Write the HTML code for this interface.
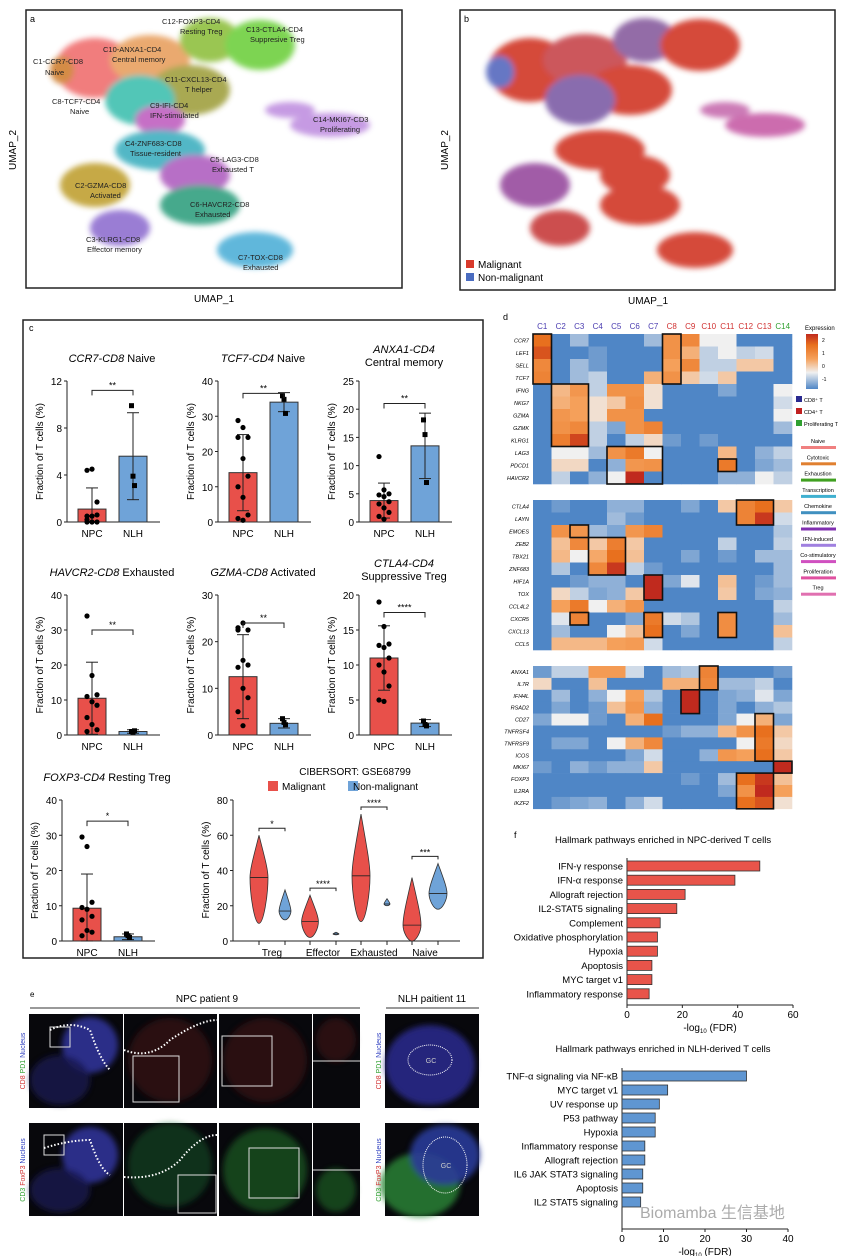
<!DOCTYPE html>
<html><head><meta charset="utf-8"><style>
body{margin:0;background:#fff;}
svg{display:block;font-family:"Liberation Sans",sans-serif;}
</style></head><body>
<svg id="fig" width="865" height="1256" viewBox="0 0 865 1256">
<defs>
<filter id="soft" x="-20%" y="-20%" width="140%" height="140%"><feGaussianBlur stdDeviation="3"/></filter>
</defs>
<rect width="865" height="1256" fill="#fff"/>
<!-- panel a -->
<g>
<rect x="26" y="10" width="376" height="278" fill="none" stroke="#222" stroke-width="1.5"/>
<text x="30" y="22" font-size="9">a</text>
<g opacity="0.9" filter="url(#soft)">
<ellipse cx="95" cy="68" rx="40" ry="30" fill="#f07070"/>
<ellipse cx="62" cy="70" rx="12" ry="14" fill="#d08030"/>
<ellipse cx="150" cy="60" rx="40" ry="25" fill="#e8a060"/>
<ellipse cx="210" cy="40" rx="30" ry="22" fill="#90c040"/>
<ellipse cx="260" cy="45" rx="35" ry="25" fill="#70d040"/>
<ellipse cx="190" cy="90" rx="40" ry="25" fill="#a0a040"/>
<ellipse cx="140" cy="100" rx="35" ry="25" fill="#40c0b0"/>
<ellipse cx="160" cy="120" rx="25" ry="15" fill="#c060c0"/>
<ellipse cx="330" cy="125" rx="40" ry="12" fill="#c090e0"/>
<ellipse cx="290" cy="110" rx="25" ry="8" fill="#c090e0"/>
<ellipse cx="160" cy="150" rx="45" ry="20" fill="#40b0c0"/>
<ellipse cx="195" cy="175" rx="35" ry="20" fill="#b060c0"/>
<ellipse cx="95" cy="185" rx="35" ry="22" fill="#c0a030"/>
<ellipse cx="200" cy="205" rx="40" ry="20" fill="#30a080"/>
<ellipse cx="120" cy="228" rx="30" ry="18" fill="#9070d0"/>
<ellipse cx="255" cy="250" rx="38" ry="18" fill="#50b0d8"/>
</g>
<g font-size="7.5" fill="#222">
<text x="33" y="64">C1-CCR7-CD8</text><text x="45" y="75">Naive</text>
<text x="52" y="104">C8-TCF7-CD4</text><text x="70" y="114">Naive</text>
<text x="103" y="52">C10-ANXA1-CD4</text><text x="112" y="62">Central memory</text>
<text x="162" y="24">C12-FOXP3-CD4</text><text x="180" y="34">Resting Treg</text>
<text x="246" y="32">C13-CTLA4-CD4</text><text x="250" y="42">Suppresive Treg</text>
<text x="165" y="82">C11-CXCL13-CD4</text><text x="185" y="92">T helper</text>
<text x="150" y="108">C9-IFI-CD4</text><text x="150" y="118">IFN-stimulated</text>
<text x="313" y="122">C14-MKI67-CD3</text><text x="320" y="132">Proliferating</text>
<text x="125" y="146">C4-ZNF683-CD8</text><text x="130" y="156">Tissue-resident</text>
<text x="210" y="162">C5-LAG3-CD8</text><text x="212" y="172">Exhausted T</text>
<text x="75" y="188">C2-GZMA-CD8</text><text x="90" y="198">Activated</text>
<text x="190" y="207">C6-HAVCR2-CD8</text><text x="195" y="217">Exhausted</text>
<text x="86" y="242">C3-KLRG1-CD8</text><text x="87" y="252">Effector memory</text>
<text x="238" y="260">C7-TOX-CD8</text><text x="243" y="270">Exhausted</text>
</g>
<text x="214" y="302" font-size="10" text-anchor="middle">UMAP_1</text>
<text x="16" y="150" font-size="10" text-anchor="middle" transform="rotate(-90 16 150)">UMAP_2</text>
</g>
<!-- panel b -->
<g>
<rect x="460" y="10" width="375" height="280" fill="none" stroke="#222" stroke-width="1.5"/>
<text x="464" y="22" font-size="9">b</text>
<g opacity="0.92" filter="url(#soft)">
<ellipse cx="530" cy="70" rx="42" ry="32" fill="#d23a2c"/>
<ellipse cx="500" cy="72" rx="14" ry="16" fill="#5a6cc0"/>
<ellipse cx="585" cy="60" rx="42" ry="26" fill="#c84a50"/>
<ellipse cx="645" cy="40" rx="32" ry="22" fill="#8a60a0"/>
<ellipse cx="700" cy="45" rx="40" ry="26" fill="#d23a2c"/>
<ellipse cx="630" cy="90" rx="42" ry="25" fill="#d23a2c"/>
<ellipse cx="580" cy="100" rx="35" ry="25" fill="#8060a8"/>
<ellipse cx="765" cy="125" rx="40" ry="12" fill="#c860a8"/>
<ellipse cx="725" cy="110" rx="25" ry="8" fill="#c870b0"/>
<ellipse cx="600" cy="150" rx="45" ry="20" fill="#d23a2c"/>
<ellipse cx="635" cy="175" rx="35" ry="20" fill="#d23a2c"/>
<ellipse cx="535" cy="185" rx="35" ry="22" fill="#9a50a0"/>
<ellipse cx="640" cy="205" rx="40" ry="20" fill="#d23a2c"/>
<ellipse cx="560" cy="228" rx="30" ry="18" fill="#c84040"/>
<ellipse cx="695" cy="250" rx="38" ry="18" fill="#d23a2c"/>
</g>
<rect x="466" y="260" width="8" height="8" fill="#d83a2c"/><text x="478" y="268" font-size="10">Malignant</text>
<rect x="466" y="273" width="8" height="8" fill="#4a6cc0"/><text x="478" y="281" font-size="10">Non-malignant</text>
<text x="648" y="304" font-size="10" text-anchor="middle">UMAP_1</text>
<text x="448" y="150" font-size="10" text-anchor="middle" transform="rotate(-90 448 150)">UMAP_2</text>
</g>
<!-- panel c -->
<rect x="23" y="320" width="460" height="638" fill="none" stroke="#222" stroke-width="1.5"/>
<text x="29" y="331" font-size="9">c</text>
<g id="bars"></g>
<g id="violin"></g>
<!-- panel d -->
<text x="503" y="320" font-size="9">d</text>
<g id="heat"></g>
<!-- panel e -->
<g>
<text x="30" y="997" font-size="8">e</text>
<text x="207" y="1002" font-size="10" text-anchor="middle">NPC patient 9</text>
<line x1="30" y1="1008" x2="360" y2="1008" stroke="#333"/>
<text x="432" y="1002" font-size="10" text-anchor="middle">NLH paitient 11</text>
<line x1="386" y1="1008" x2="479" y2="1008" stroke="#333"/>
<g fill="#08080c">
<rect x="29" y="1014" width="94" height="94"/><rect x="124" y="1014" width="93" height="94"/><rect x="219" y="1014" width="93" height="94"/><rect x="313" y="1014" width="47" height="94"/>
<rect x="29" y="1123" width="94" height="93"/><rect x="124" y="1123" width="93" height="93"/><rect x="219" y="1123" width="93" height="93"/><rect x="313" y="1123" width="47" height="93"/>
<rect x="385" y="1014" width="94" height="94"/><rect x="385" y="1123" width="94" height="93"/>
</g>
<g filter="url(#soft)">
<ellipse cx="90" cy="1045" rx="28" ry="28" fill="#3438a8" opacity="0.8"/>
<ellipse cx="60" cy="1080" rx="30" ry="25" fill="#1a1a50" opacity="0.8"/>
<ellipse cx="90" cy="1155" rx="28" ry="28" fill="#3438a8" opacity="0.8"/>
<ellipse cx="60" cy="1190" rx="30" ry="22" fill="#1a1a50" opacity="0.8"/>
<ellipse cx="430" cy="1065" rx="45" ry="40" fill="#2a2a88" opacity="0.9"/>
<ellipse cx="420" cy="1185" rx="40" ry="32" fill="#2a8a3a" opacity="0.8"/>
<ellipse cx="445" cy="1155" rx="35" ry="30" fill="#2a3a98" opacity="0.9"/>
<ellipse cx="170" cy="1060" rx="42" ry="42" fill="#4a1414" opacity="0.5"/>
<ellipse cx="265" cy="1060" rx="42" ry="42" fill="#4a1414" opacity="0.5"/>
<ellipse cx="336" cy="1040" rx="20" ry="22" fill="#4a1414" opacity="0.5"/>
<ellipse cx="170" cy="1165" rx="42" ry="42" fill="#1a5a2a" opacity="0.5"/>
<ellipse cx="265" cy="1170" rx="42" ry="42" fill="#1f6a2a" opacity="0.6"/>
<ellipse cx="336" cy="1190" rx="20" ry="22" fill="#1f6a2a" opacity="0.6"/>
</g>
<ellipse cx="430" cy="1060" rx="22" ry="15" fill="none" stroke="#fff" stroke-dasharray="1 1"/>
<ellipse cx="445" cy="1165" rx="22" ry="28" fill="none" stroke="#fff" stroke-dasharray="1 1"/>
<g font-size="7" text-anchor="middle">
<text transform="translate(25 1061) rotate(-90)"><tspan fill="#d03030">CD8</tspan> <tspan fill="#30a030">PD1</tspan> <tspan fill="#3040c0">Nucleus</tspan></text>
<text transform="translate(25 1170) rotate(-90)"><tspan fill="#30a030">CD3</tspan> <tspan fill="#d03030">FoxP3</tspan> <tspan fill="#3040c0">Nucleus</tspan></text>
<text transform="translate(381 1061) rotate(-90)"><tspan fill="#d03030">CD8</tspan> <tspan fill="#30a030">PD1</tspan> <tspan fill="#3040c0">Nucleus</tspan></text>
<text transform="translate(381 1170) rotate(-90)"><tspan fill="#30a030">CD3</tspan> <tspan fill="#d03030">FoxP3</tspan> <tspan fill="#3040c0">Nucleus</tspan></text>
<text x="431" y="1063" fill="#ccc">GC</text><text x="446" y="1168" fill="#ccc">GC</text>
</g>
<g fill="none" stroke="#ddd" stroke-width="1">
<rect x="50" y="1027" width="20" height="20"/><rect x="133" y="1056" width="46" height="46"/><rect x="222" y="1036" width="50" height="50"/>
<rect x="44" y="1135" width="20" height="20"/><rect x="178" y="1175" width="38" height="38"/><rect x="249" y="1148" width="50" height="50"/>
<line x1="313" y1="1061" x2="360" y2="1061"/><line x1="313" y1="1170" x2="360" y2="1170"/>
</g>
<path d="M50 1030 Q70 1020 90 1030 Q100 1060 110 1070 M124 1050 Q150 1060 170 1040 Q200 1020 217 1020" fill="none" stroke="#fff" stroke-width="2" stroke-dasharray="1.5 2"/>
<path d="M44 1148 Q70 1140 90 1140 Q100 1170 110 1175 M124 1177 Q160 1180 180 1160 Q200 1135 217 1135" fill="none" stroke="#fff" stroke-width="2" stroke-dasharray="1.5 2"/>
</g>
<!-- panel f -->
<text x="514" y="838" font-size="9">f</text>
<g id="pathA"></g>
<g id="pathB"></g>
<text x="640" y="1218" font-size="16" fill="#888" opacity="0.7">Biomamba 生信基地</text>
</svg>
<script>
const NS="http://www.w3.org/2000/svg";
function mk(p,t,a,txt){const e=document.createElementNS(NS,t);for(const k in a)e.setAttribute(k,a[k]);if(txt!==undefined)e.textContent=txt;p.appendChild(e);return e;}

// ---------- panel c bar charts ----------
const barTitles=[["CCR7-CD8"," Naive"],["TCF7-CD4"," Naive"],["ANXA1-CD4","Central memory"],["HAVCR2-CD8"," Exhausted"],["GZMA-CD8"," Activated"],["CTLA4-CD4","Suppressive Treg"],["FOXP3-CD4"," Resting Treg"]];
const barTicks=[[0,4,8,12],[0,10,20,30,40],[0,5,10,15,20,25],[0,10,20,30,40],[0,10,20,30],[0,5,10,15,20],[0,10,20,30,40]];
const npcMean=[1.1,14,3.8,10.5,12.5,11,9.3];
const npcErr=[1.8,10.8,3.1,10.3,9,4.6,9.7];
const nlhMean=[5.6,34,13.5,1,2.5,1.7,1.2];
const nlhErr=[3.7,2.7,5.8,0.5,1,0.5,0.8];
const npcPts=[[4.4,4.5,1.7,0.5,0.5,0.6,0.2,0,0,0],[28.8,26.8,24,24,18,13,10,7,2,1,0.5],[11.6,5.7,5,4.8,4.5,3.6,3.2,2.5,1.7,1,0.5],[34,17,11.5,11,9.5,8.5,5,3,1.5,1],[23,24,22.5,22.5,16,15,14.5,10,8,5,2],[19,15.5,13,12.8,12.5,11,10,9,7,5,4.8],[29.5,26.8,11,9.5,9,7,6,3,2.5,1.5]];
const nlhPts=[[9.9,3.9,3.1],[35.8,34.8,30.8],[18.1,15.5,7],[1,0.8,1.2],[3.5,2.7,2.2],[2,1.5,1.3],[2,1.5,1]];
const barSig=["**","**","**","**","**","****","*"];
const barSigLevel=[11.2,36.5,21,30,24,17.5,34];
(function(){
 const g=document.getElementById('bars');
 const frames=[[67,381,522],[218,381,522],[359,381,522],[67,595,735],[218,595,735],[359,595,735],[62,800,941]];
 for(let i=0;i<7;i++){
  const [ax,yt,y0]=frames[i];const t=barTicks[i];const max=t[t.length-1];
  const Y=v=>y0-(v/max)*(y0-yt);
  const c=mk(g,'g',{});
  
  
  const two=(i==2||i==5);
  const tt=mk(c,'text',{x:ax+45,y:two?yt-28:yt-19,'font-size':11,'text-anchor':'middle'});
  if(two){mk(tt,'tspan',{'font-style':'italic'},barTitles[i][0]);mk(c,'text',{x:ax+45,y:yt-15,'font-size':11,'text-anchor':'middle'},barTitles[i][1]);}
  else{mk(tt,'tspan',{'font-style':'italic'},barTitles[i][0]);mk(tt,'tspan',{},barTitles[i][1]);}
  mk(c,'line',{x1:ax,y1:yt,x2:ax,y2:y0,stroke:'#222'});
  mk(c,'line',{x1:ax,y1:y0,x2:ax+93,y2:y0,stroke:'#222'});
  t.forEach(v=>{mk(c,'line',{x1:ax-3,y1:Y(v),x2:ax,y2:Y(v),stroke:'#222'});mk(c,'text',{x:ax-5,y:Y(v)+4,'font-size':10,'text-anchor':'end'},v);});
  mk(c,'text',{x:ax-24,y:(yt+y0)/2,'font-size':10,'text-anchor':'middle',transform:`rotate(-90 ${ax-24} ${(yt+y0)/2})`},'Fraction of T cells (%)');
  const cx=[ax+25,ax+66];const means=[npcMean[i],nlhMean[i]];const errs=[npcErr[i],nlhErr[i]];const fills=['#e8504a','#6fa3d8'];const pts=[npcPts[i],nlhPts[i]];
  ['NPC','NLH'].forEach((lab,k)=>{
   const b=mk(c,'rect',{x:cx[k]-14,y:Y(means[k]),width:28,height:y0-Y(means[k]),fill:fills[k],stroke:'#333'});
   
   
   const hi=Y(means[k]+errs[k]),lo=Y(Math.max(0,means[k]-errs[k]));
   mk(c,'line',{x1:cx[k],y1:hi,x2:cx[k],y2:lo,stroke:'#222'});
   mk(c,'line',{x1:cx[k]-6,y1:hi,x2:cx[k]+6,y2:hi,stroke:'#222'});
   mk(c,'line',{x1:cx[k]-6,y1:lo,x2:cx[k]+6,y2:lo,stroke:'#222'});
   pts[k].forEach((v,j)=>{const dx=((j%3)-1)*5;if(k==0)mk(c,'circle',{cx:cx[k]+dx,cy:Y(v),r:2.6,fill:'#000'});else mk(c,'rect',{x:cx[k]+dx*0.3-2.5,y:Y(v)-2.5,width:5,height:5,fill:'#000'});});
   mk(c,'text',{x:cx[k],y:y0+15,'font-size':10,'text-anchor':'middle'},lab);
  });
  const sy=Y(barSigLevel[i]);
  mk(c,'path',{d:`M${cx[0]} ${sy+5}V${sy}H${cx[1]}V${sy+5}`,fill:'none',stroke:'#222'});
  mk(c,'text',{x:(cx[0]+cx[1])/2,y:sy-2,'font-size':9,'text-anchor':'middle'},barSig[i]);
 }
})();

// ---------- violin ----------
const vCats=["Treg","Effector","Exhausted","Naive"];
const vMalMed=[36,11,37,9];const vMalLo=[10,2,11,0];const vMalHi=[60,26,72,36];
const vNonMed=[17,4,21,27];const vNonLo=[12,3.5,20,18];const vNonHi=[29,5,24,44];
const vSig=["*","****","****","***"];
(function(){
 const g=document.getElementById('violin');const ax=233,y0=941,yt=800,max=80;
 const Y=v=>y0-v/max*(y0-yt);
 mk(g,'text',{x:355,y:775,'font-size':10,'text-anchor':'middle'},'CIBERSORT: GSE68799');
 mk(g,'rect',{x:268,y:781,width:10,height:10,fill:'#e8504a'});mk(g,'text',{x:282,y:790,'font-size':10},'Malignant');
 mk(g,'rect',{x:348,y:781,width:10,height:10,fill:'#6fa3d8'});mk(g,'text',{x:352,y:790,'font-size':10},'');
 mk(g,'text',{x:353,y:790,'font-size':10},'Non-malignant');
 mk(g,'line',{x1:ax,y1:yt,x2:ax,y2:y0,stroke:'#222'});mk(g,'line',{x1:ax,y1:y0,x2:460,y2:y0,stroke:'#222'});
 [0,20,40,60,80].forEach(v=>{mk(g,'line',{x1:ax-3,y1:Y(v),x2:ax,y2:Y(v),stroke:'#222'});mk(g,'text',{x:ax-5,y:Y(v)+4,'font-size':10,'text-anchor':'end'},v);});
 mk(g,'text',{x:ax-24,y:870,'font-size':10,'text-anchor':'middle',transform:`rotate(-90 ${ax-24} 870)`},'Fraction of T cells (%)');
 vCats.forEach((c,i)=>{
  const cm=ax+26+i*51,cn=cm+26;
  mk(g,'line',{x1:cm,y1:y0,x2:cm,y2:y0+4,stroke:'#222'});mk(g,'line',{x1:cn,y1:y0,x2:cn,y2:y0+4,stroke:'#222'});
  [[cm,vMalMed[i],vMalLo[i],vMalHi[i],'#e8504a'],[cn,vNonMed[i],vNonLo[i],vNonHi[i],'#6fa3d8']].forEach(([x,m,lo,hi,f])=>{
   const w=Math.min(9,Math.max(3,(hi-lo)*0.35));
   const d=`M${x} ${Y(hi)} C${x+w*0.6} ${Y(m+(hi-m)*0.5)} ${x+w} ${Y(m+(hi-m)*0.2)} ${x+w} ${Y(m)} C${x+w} ${Y(m-(m-lo)*0.4)} ${x+w*0.5} ${Y(lo)} ${x} ${Y(lo)} C${x-w*0.5} ${Y(lo)} ${x-w} ${Y(m-(m-lo)*0.4)} ${x-w} ${Y(m)} C${x-w} ${Y(m+(hi-m)*0.2)} ${x-w*0.6} ${Y(m+(hi-m)*0.5)} ${x} ${Y(hi)}Z`;
   const v=mk(g,'path',{d,fill:f,stroke:'#333','stroke-width':0.8});
   
   
   mk(g,'line',{x1:x-w,y1:Y(m),x2:x+w,y2:Y(m),stroke:'#222','stroke-width':0.8});
  });
  const sy=Y(Math.max(vMalHi[i],vNonHi[i])+4);
  mk(g,'path',{d:`M${cm} ${sy+3}V${sy}H${cn}V${sy+3}`,fill:'none',stroke:'#222'});
  mk(g,'text',{x:(cm+cn)/2,y:sy-1,'font-size':9,'text-anchor':'middle'},vSig[i]);
  mk(g,'text',{x:(cm+cn)/2,y:y0+15,'font-size':10,'text-anchor':'middle'},c);
 });
})();

// ---------- heatmap ----------
const hmCols=["C1","C2","C3","C4","C5","C6","C7","C8","C9","C10","C11","C12","C13","C14"];
const hmGenes1=["CCR7","LEF1","SELL","TCF7","IFNG","NKG7","GZMA","GZMK","KLRG1","LAG3","PDCD1","HAVCR2"];
const hmGenes2=["CTLA4","LAYN","EMOES","ZEB2","TBX21","ZNF683","HIF1A","TOX","CCL4L2","CXCR5","CXCL13","CCL5"];
const hmGenes3=["ANXA1","IL7R","IFI44L","RSAD2","CD27","TNFRSF4","TNFRSF9","ICOS","MKI67","FOXP3","IL2RA","IKZF2"];
const hmVals1=[[2,-1,-0.5,-1,-1,-1,-0.5,1.3,1.5,0,0,-1,-1,-1],[2.2,-1,-1,-0.8,-1,-1,-1,1.3,0.8,-0.3,0,-0.3,-0.2,-1],[1.5,-1,-0.5,-0.8,-1,-1,-1,1,1.5,-0.3,-0.3,0.5,0.5,-1],[1.6,-1,-0.5,-0.3,-1,-1,0.8,1.3,0.5,-0.2,0.5,-1,-1,-1],[-1,0.7,1.2,-0.3,1.3,1.3,0.2,-1,-1,-1,-0.7,-1,-1,0],[-1,0.8,1,0.2,0.5,1.4,0.2,-1,-1,-1,-1,-1,-1,-0.2],[-1,1.2,1,0.2,1.3,1.3,-1,-1,-1,-1,-1,-1,-1,0],[-1,1.3,1.5,-0.3,-0.7,1.3,1.6,-1,-1,-1,-1,-1,-1,-0.5],[-1,1.7,2.3,-0.3,-1,-0.3,0.3,-0.8,-1,-0.8,-1,-1,-1,-1],[-1,0,0,-0.5,1.3,1.8,0,-1,-1,-1,0.7,-1,-0.6,-0.3],[-1,0.3,0.3,-1,-0.6,1.2,1.3,-1,-1,-1,1.8,-1,-0.7,-0.5],[-1,-0.3,-1,-0.6,0,2.5,-1,-1,-1,-1,-0.6,-0.6,0,-0.3]];
const hmVals2=[[-1,-0.8,-1,-1,-0.6,-0.6,-1,-1,-0.7,-1,0.5,1.6,2,0.5],[-1,-1,-1,-1,-0.5,-0.8,-1,-1,-1,-1,-1,1.6,2.4,-0.2],[-1,1.3,1.2,-0.5,-0.7,1.2,1.6,-1,-1,-1,-1,-1,-1,-0.4],[-1,0.6,1.5,0.5,1.7,0.5,-1,-1,-1,-1,-0.3,-1,-1,-0.3],[-1,0.7,0,0.9,2,0.6,-1,-1,-0.7,-1,-0.8,-1,-0.5,-0.5],[-1,-0.4,-1,1.5,2.4,-0.3,-0.8,-1,-1,-1,-1,-1,-1,-0.5],[-1,-1,-0.8,-0.6,-0.6,-1,2.5,-0.7,-0.1,-1,0.6,-1,-0.8,-0.5],[-1,0.3,-0.3,-0.7,-0.6,0.5,2.5,-1,-1,-1,0.5,-1,-0.7,-0.6],[-1,1,1.8,0,0.8,1.2,-1,-1,-1,-1,-1,-1,-1,-0.3],[-1,-0.1,1.6,-1,-1,-0.7,1.8,-0.2,-0.4,-1,1.4,-1,-1,-0.5],[-1,-0.5,-1,-1,0,0.6,2,-1,-0.7,-1,1.4,-1,-1,0.6],[-1,0.7,0.7,0.7,1,1.1,-0.2,-1,-1,-1,-1,-1,-1,-0.3]];
const hmVals3=[[-0.8,-0.3,-0.3,1.1,1.1,-0.2,-1,-0.5,-0.4,1.6,-1,-1,-1,-0.8],[0.3,-1,-1,0.6,-1,-1,-1,0.8,0.8,1.5,-0.5,-0.5,-0.3,-1],[-1,-0.5,-1,-0.6,0,1,-0.4,-1,2.5,-1,-0.7,-0.6,-0.1,-0.7],[-1,-0.7,-1,-0.8,0.6,1.2,-0.6,-1,2.5,-1,-0.7,-1,-0.6,-0.4],[-0.7,0,0,-0.8,-1,0.8,2,-1,-1,-1,-0.7,0,0.8,-0.7],[-1,-1,-1,-1,-1,-1,-1,-0.8,-0.6,-0.6,0.7,1.3,2,0.5],[-1,-0.7,-0.7,-1,0,0.8,1.5,-1,-1,-1,-1,0,1.8,0.3],[-1,-1,-1,-1,-1,-0.7,-0.2,-1,-1,-0.6,1.2,1,2,0.5],[-0.8,-1,-0.6,-0.8,-0.6,-0.6,0.5,-1,-1,-1,-1,-1,-1,2.5],[-1,-1,-1,-1,-1,-1,-1,-1,-0.8,-1,-0.5,2,2.4,0.6],[-1,-1,-1,-1,-1,-1,-1,-1,-1,-1,-0.7,1.3,2.5,1],[-1,-0.8,-0.7,-0.6,-1,-0.6,-0.2,-1,-1,-1,-1,2,2.2,0.2]];
// boxes: [block, col0, row0, col1, row1]
const hmBoxes=[[0,0,0,0,3],[0,7,0,7,3],[0,1,4,2,8],[0,4,9,6,11],[0,10,10,10,10],[1,11,0,12,1],[1,2,2,2,2],[1,3,3,4,5],[1,6,6,6,7],[1,2,9,2,9],[1,6,9,6,10],[1,10,9,10,10],[2,9,0,9,1],[2,8,2,8,3],[2,12,4,12,7],[2,13,8,13,8],[2,11,9,12,11]];
function hcol(v){
 const stops=[[-1,[79,134,198]],[0,[240,240,240]],[1,[245,160,90]],[2,[232,112,30]],[2.5,[192,42,30]]];
 v=Math.max(-1,Math.min(2.5,v));
 for(let i=0;i<stops.length-1;i++){const [a,ca]=stops[i],[b,cb]=stops[i+1];if(v<=b){const t=(v-a)/(b-a);return `rgb(${ca.map((c,k)=>Math.round(c+(cb[k]-c)*t)).join(',')})`;}}
}
(function(){
 const g=document.getElementById('heat');const x0=533,cw=18.5;
 const blocks=[[334,12.5,hmGenes1,hmVals1],[500,12.5,hmGenes2,hmVals2],[666,11.9,hmGenes3,hmVals3]];
 hmCols.forEach((c,j)=>{const col=j<7?'#4a3cb0':(j<13?'#d03030':'#30a030');mk(g,'text',{x:x0+cw*j+cw/2,y:329,'font-size':8,'text-anchor':'middle',fill:col},c);});
 blocks.forEach(([y0,rh,genes,vals],b)=>{
  genes.forEach((gn,r)=>{
   mk(g,'text',{x:529,y:y0+rh*r+rh/2+2,'font-size':5.5,'font-style':'italic','text-anchor':'end'},gn);
   vals[r].forEach((v,j)=>{const cell=mk(g,'rect',{x:x0+cw*j,y:y0+rh*r,width:cw+0.3,height:rh+0.3,fill:hcol(v)});
    
    });
  });
 });
 hmBoxes.forEach(([b,c0,r0,c1,r1])=>{const [y0,rh]=blocks[b];mk(g,'rect',{x:x0+cw*c0,y:y0+rh*r0,width:cw*(c1-c0+1),height:rh*(r1-r0+1),fill:'none',stroke:'#111','stroke-width':1.6});});
 mk(g,'text',{x:805,y:330,'font-size':6},'Expression');
 const lg=mk(g,'defs',{});const gr=mk(lg,'linearGradient',{id:'eg',x1:0,y1:1,x2:0,y2:0});
 [[0,hcol(-1)],[0.3,hcol(0)],[0.55,hcol(1)],[0.8,hcol(2)],[1,hcol(2.5)]].forEach(([o,c])=>mk(gr,'stop',{offset:o,'stop-color':c}));
 mk(g,'rect',{x:806,y:334,width:12,height:55,fill:'url(#eg)'});
 [[2,342],[1,355],[0,368],[-1,381]].forEach(([t,y])=>mk(g,'text',{x:822,y:y,'font-size':5},t));
 [['#2a2a90','CD8⁺ T',402],['#c02020','CD4⁺ T',414],['#30a030','Proliferating T',426]].forEach(([c,t,y])=>{mk(g,'rect',{x:796,y:y-6,width:6,height:6,fill:c});mk(g,'text',{x:804,y:y,'font-size':5.5},t);});
 const cats=[['Naive','#f08080'],['Cytotoxic','#e08030'],['Exhaustion','#40a020'],['Transcription','#40b0d0'],['Chemokine','#4090c0'],['Inflammatory','#8030b0'],['IFN-induced','#a080e0'],['Co-stimulatory','#d050c0'],['Proliferation','#e050a0'],['Treg','#e070b0']];
 cats.forEach(([t,c],i)=>{const y=443+i*16.3;mk(g,'text',{x:818,y:y,'font-size':5.5,'text-anchor':'middle'},t);mk(g,'rect',{x:801,y:y+3,width:35,height:3,fill:c});});
})();

// ---------- pathway bars ----------
const pathA=["IFN-γ response","IFN-α response","Allograft rejection","IL2-STAT5 signaling","Complement","Oxidative phosphorylation","Hypoxia","Apoptosis","MYC target v1","Inflammatory response"];
const pathAVals=[48,39,21,18,12,11,11,9,9,8];
const pathB=["TNF-α signaling via NF-κB","MYC target v1","UV response up","P53 pathway","Hypoxia","Inflammatory response","Allograft rejection","IL6 JAK STAT3 signaling","Apoptosis","IL2 STAT5 signaling"];
const pathBVals=[30,11,9,8,8,5.5,5.5,5,5,4.5];
function pathChart(id,title,names,vals,x0,pxPer,ticks,yStart,step,yAxis,ty,fill){
 const g=document.getElementById(id);
 mk(g,'text',{x:663,y:ty,'font-size':9.5,'text-anchor':'middle'},title);
 mk(g,'line',{x1:x0,y1:yStart-8,x2:x0,y2:yAxis,stroke:'#222'});
 mk(g,'line',{x1:x0,y1:yAxis,x2:x0+ticks[ticks.length-1]*pxPer,y2:yAxis,stroke:'#222'});
 ticks.forEach(t=>{const x=x0+t*pxPer;mk(g,'line',{x1:x,y1:yAxis,x2:x,y2:yAxis+3,stroke:'#222'});mk(g,'text',{x:x,y:yAxis+13,'font-size':10,'text-anchor':'middle'},t);});
 const lab=mk(g,'text',{x:x0+ticks[ticks.length-1]*pxPer/2,y:yAxis+26,'font-size':10,'text-anchor':'middle'},'-log');
 mk(lab,'tspan',{'font-size':6,dy:2},'10');mk(lab,'tspan',{dy:-2},' (FDR)');
 names.forEach((n,i)=>{const y=yStart+i*step;
  const b=mk(g,'rect',{x:x0,y:y-5,width:vals[i]*pxPer,height:10,fill:fill,stroke:'#333','stroke-width':0.8});
  
  
  mk(g,'text',{x:x0-4,y:y+3.5,'font-size':9.5,'text-anchor':'end'},n);});
}
pathChart('pathA','Hallmark pathways enriched in NPC-derived T cells',pathA,pathAVals,627,2.767,[0,20,40,60],866,14.2,1005,843,'#e8544a');
pathChart('pathB','Hallmark pathways enriched in NLH-derived T cells',pathB,pathBVals,622,4.15,[0,10,20,30,40],1076,14,1229,1052,'#5f96d2');
</script>
</body></html>
